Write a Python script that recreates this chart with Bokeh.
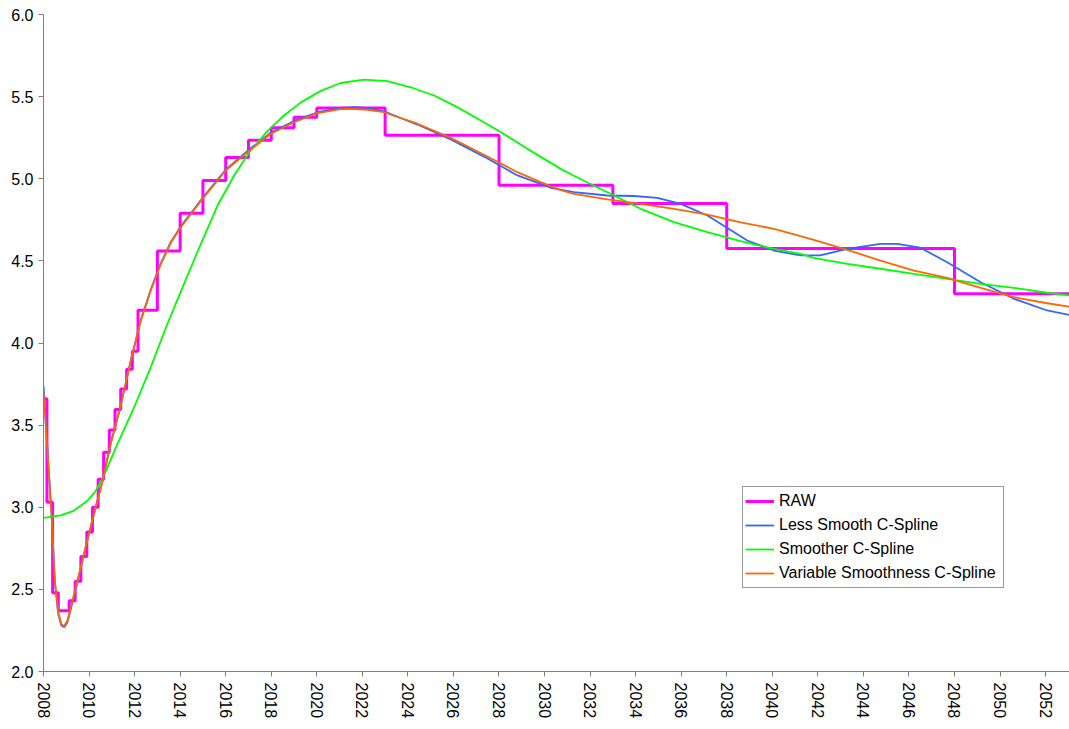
from bokeh.plotting import figure
from bokeh.models import Range1d, FixedTicker, Legend, LegendItem, NumeralTickFormatter
from bokeh.embed import file_html
from bokeh.resources import INLINE

# Raw forward-rate steps: edges (years) and the level held on each interval
raw_edges = [2008.0, 2008.15, 2008.40, 2008.65, 2009.13, 2009.39, 2009.64, 2009.90,
             2010.15, 2010.40, 2010.64, 2010.89, 2011.14, 2011.39, 2011.65, 2011.90,
             2012.15, 2013.0, 2014.0, 2015.0, 2016.0, 2017.0, 2018.0, 2019.0,
             2020.0, 2023.0, 2028.0, 2033.0, 2038.0, 2048.0, 2053.05]
raw_levels = [3.66, 3.03, 2.48, 2.37, 2.43, 2.55, 2.70, 2.85, 3.00, 3.17,
              3.335, 3.47, 3.595, 3.72, 3.84, 3.95, 4.20, 4.56, 4.79, 4.99,
              5.13, 5.235, 5.31, 5.375, 5.43, 5.265, 4.96, 4.85, 4.575, 4.30]

# Less smooth C-spline
less_x = [2008.00, 2008.18, 2008.35, 2008.50, 2008.65, 2008.78, 2008.92, 2009.05, 2009.20,
          2009.34, 2009.56, 2009.78, 2010.00, 2010.22, 2010.59, 2010.95, 2011.39, 2011.83,
          2012.27, 2012.71, 2013.15, 2013.59, 2014.03, 2014.50, 2014.91, 2015.50, 2016.00,
          2016.96, 2017.98, 2019.00, 2020.03, 2021.05, 2021.70, 2022.30, 2022.95, 2023.68,
          2024.42, 2025.88, 2027.34, 2028.81, 2029.83, 2030.27, 2031.29, 2032.76, 2033.93,
          2034.95, 2035.98, 2037.15, 2038.03, 2038.90, 2040.07, 2041.24, 2042.10, 2043.29,
          2044.75, 2045.48, 2046.50, 2047.68, 2049.15, 2050.61, 2052.07, 2053.05]
less_y = [3.74, 3.34, 2.96, 2.54, 2.35, 2.28, 2.27, 2.30, 2.38,
          2.46, 2.585, 2.715, 2.84, 2.96, 3.16, 3.386, 3.62, 3.89,
          4.137, 4.325, 4.485, 4.615, 4.71, 4.795, 4.87, 4.97, 5.055,
          5.17, 5.28, 5.352, 5.405, 5.432, 5.436, 5.43, 5.41, 5.37,
          5.33, 5.24, 5.135, 5.02, 4.969, 4.945, 4.918, 4.898, 4.895,
          4.884, 4.847, 4.776, 4.70, 4.624, 4.563, 4.533, 4.533, 4.573,
          4.604, 4.604, 4.58, 4.492, 4.37, 4.269, 4.198, 4.171]

# Smoother C-spline
smooth_x = [2008.00, 2008.76, 2009.34, 2009.93, 2010.25, 2010.59, 2011.25, 2011.98, 2012.71,
            2013.44, 2014.17, 2014.91, 2015.64, 2016.37, 2017.03, 2017.83, 2018.56, 2019.30,
            2020.17, 2021.05, 2022.07, 2023.10, 2024.12, 2025.15, 2026.17, 2027.20, 2028.09,
            2029.25, 2030.71, 2031.29, 2032.76, 2034.22, 2035.68, 2037.15, 2038.61, 2040.07,
            2041.24, 2041.82, 2043.29, 2044.75, 2046.22, 2047.68, 2049.15, 2050.61, 2052.07,
            2053.05]
smooth_y = [2.935, 2.95, 2.98, 3.04, 3.09, 3.173, 3.386, 3.609, 3.853,
            4.117, 4.36, 4.604, 4.837, 5.02, 5.16, 5.29, 5.385, 5.465,
            5.535, 5.583, 5.604, 5.594, 5.557, 5.507, 5.436, 5.355, 5.283,
            5.182, 5.06, 5.018, 4.918, 4.817, 4.736, 4.675, 4.62, 4.573,
            4.543, 4.518, 4.482, 4.452, 4.421, 4.391, 4.36, 4.336, 4.306,
            4.29]

# Variable smoothness C-spline
var_x = [2008.00, 2008.18, 2008.35, 2008.50, 2008.65, 2008.78, 2008.90, 2009.05, 2009.20,
         2009.34, 2009.56, 2009.78, 2010.00, 2010.22, 2010.59, 2010.95, 2011.39, 2011.83,
         2012.27, 2012.71, 2013.15, 2013.59, 2014.03, 2014.50, 2014.91, 2015.50, 2016.00,
         2016.96, 2017.98, 2019.00, 2020.03, 2021.05, 2021.50, 2022.22, 2022.95, 2023.68,
         2024.42, 2025.88, 2027.34, 2028.81, 2029.83, 2030.71, 2031.29, 2032.76, 2034.22,
         2035.68, 2037.15, 2038.61, 2040.07, 2041.24, 2041.82, 2043.29, 2044.75, 2046.22,
         2047.68, 2049.15, 2050.61, 2052.07, 2053.05]
var_y = [3.70, 3.33, 2.96, 2.55, 2.36, 2.29, 2.276, 2.31, 2.39,
         2.47, 2.59, 2.72, 2.84, 2.96, 3.16, 3.386, 3.62, 3.89,
         4.137, 4.32, 4.48, 4.61, 4.705, 4.79, 4.865, 4.965, 5.05,
         5.162, 5.274, 5.344, 5.399, 5.424, 5.426, 5.42, 5.405, 5.37,
         5.335, 5.249, 5.146, 5.04, 4.979, 4.93, 4.908, 4.874, 4.847,
         4.817, 4.782, 4.735, 4.695, 4.650, 4.628, 4.567, 4.502, 4.441,
         4.397, 4.336, 4.279, 4.242, 4.221]

year_ticks = list(range(2008, 2053, 2))
rate_ticks = [2.0, 2.5, 3.0, 3.5, 4.0, 4.5, 5.0, 5.5, 6.0]

FONT = "Liberation Sans"

p = figure(width=1069, height=729, output_backend="svg", toolbar_location=None,
           x_range=Range1d(2008, 2053.05), y_range=Range1d(2.0, 6.0),
           min_border_left=43, min_border_right=0, min_border_top=14, min_border_bottom=58)
p.outline_line_color = None
p.grid.visible = False
p.background_fill_color = "white"
p.border_fill_color = "white"

r_raw = p.step(raw_edges, raw_levels + [raw_levels[-1]], mode="after",
               line_color="#ff00ff", line_width=3)
r_less = p.line(less_x, less_y, line_color="#3366ff", line_width=1.8)
r_smooth = p.line(smooth_x, smooth_y, line_color="#00ff00", line_width=1.8)
r_var = p.line(var_x, var_y, line_color="#ff6600", line_width=1.8)

for ax in (p.xaxis[0], p.yaxis[0]):
    ax.axis_line_color = "#808080"
    ax.major_tick_line_color = "#808080"
    ax.major_tick_out = 5
    ax.major_tick_in = 0
    ax.minor_tick_line_color = None
    ax.major_label_text_font = FONT
    ax.major_label_text_font_size = "16px"
    ax.major_label_text_color = "#000000"

p.xaxis.ticker = FixedTicker(ticks=year_ticks)
p.xaxis.major_label_orientation = "vertical"
p.xaxis.major_label_standoff = 6
p.yaxis.ticker = FixedTicker(ticks=rate_ticks)
p.yaxis.formatter = NumeralTickFormatter(format="0.0")
p.yaxis.major_label_standoff = 5

legend = Legend(items=[
    LegendItem(label="RAW", renderers=[r_raw]),
    LegendItem(label="Less Smooth C-Spline", renderers=[r_less]),
    LegendItem(label="Smoother C-Spline", renderers=[r_smooth]),
    LegendItem(label="Variable Smoothness C-Spline", renderers=[r_var]),
], location=(699, 83))
legend.label_text_font = FONT
legend.label_text_font_size = "16px"
legend.label_text_color = "#000000"
legend.border_line_color = "#333333"
legend.border_line_width = 1
legend.background_fill_color = "white"
legend.background_fill_alpha = 1.0
legend.padding = 2
legend.spacing = 0
legend.label_height = 24
legend.glyph_height = 24
legend.glyph_width = 29
legend.label_standoff = 5
legend.label_width = 222
legend.margin = 0
p.add_layout(legend, "center")

open("out.html", "w").write(file_html(p, INLINE))
